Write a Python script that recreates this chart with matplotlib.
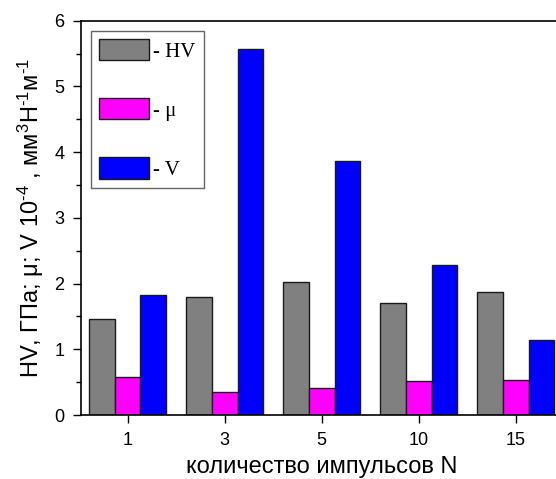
import numpy as np
import matplotlib.pyplot as plt

# pulses count and measured values
pulses = ['1', '3', '5', '10', '15']
hv = [1.46, 1.79, 2.02, 1.70, 1.87]
mu = [0.58, 0.35, 0.41, 0.52, 0.53]
vol = [1.82, 5.57, 3.87, 2.28, 1.14]

plt.rcParams.update({
    'font.family': 'Liberation Sans',
    'mathtext.fontset': 'custom',
    'mathtext.rm': 'Liberation Sans',
    'mathtext.it': 'Liberation Sans:italic',
    'mathtext.bf': 'Liberation Sans:bold',
})

fig = plt.figure(figsize=(5.56, 4.79), dpi=100)
ax = fig.add_axes([0.1457, 0.1336, 0.866, 0.823])

x = np.arange(len(pulses))
w = 0.265

ax.bar(x - w, hv, w, color='#808080', edgecolor='#1a1a1a', linewidth=1, label='- HV')
ax.bar(x, mu, w, color='#ff00ff', edgecolor='#1a1a1a', linewidth=1, label='- μ')
ax.bar(x + w, vol, w, color='#0000ff', edgecolor='#1a1a1a', linewidth=1, label='- V')

ax.set_xlim(-0.48, 4.48)
ax.set_ylim(0, 6)
ax.set_xticks(x)
ax.set_xticklabels(pulses)
ax.set_yticks(np.arange(0, 7, 1))
ax.set_yticks(np.arange(0.5, 6, 1), minor=True)
ax.tick_params(axis='both', which='major', direction='out', length=6, width=1, labelsize=13, pad=6)
ax.tick_params(axis='y', which='minor', direction='out', length=3.5, width=1)
ax.tick_params(axis='x', which='minor', bottom=False)

for s in ax.spines.values():
    s.set_linewidth(1.2)

ax.set_xlabel('количество импульсов N', fontsize=17, labelpad=5)
ax.set_ylabel('HV, ГПа; μ; V 10$^{\u20104}$ , мм$^{3}$Н$^{\u20101}$м$^{\u20101}$',
              fontsize=17, labelpad=6)

leg = ax.legend(loc='upper left', bbox_to_anchor=(0.02, 0.975), frameon=True, fancybox=False,
                prop={'family': 'Liberation Serif', 'size': 15},
                handlelength=2.4, handleheight=1.2, labelspacing=1.75,
                handletextpad=0.2, borderpad=0.4, borderaxespad=0)
leg.get_frame().set_edgecolor('#404040')
leg.get_frame().set_linewidth(1)

fig.savefig('out.png', dpi=100)
